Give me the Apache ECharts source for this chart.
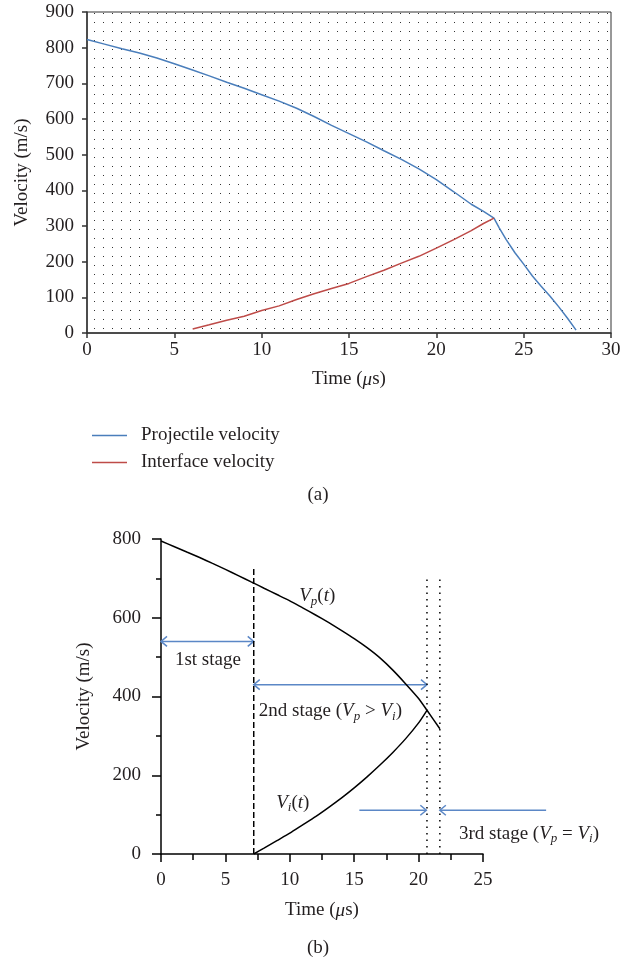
<!DOCTYPE html>
<html lang="en">
<head>
	<meta charset="UTF-8">
	<title>Velocity</title>
	<script src="https://cdn.jsdelivr.net/npm/echarts@6/dist/echarts.min.js"></script>
	<style>
		html, body { margin: 0; padding: 0; background: #fff; }
		#chart { width: 636px; height: 964px; }
	</style>
</head>
<body>
<div id="chart"></div>
<script>
	// (a) measured velocities
	var projTime = [0, 1, 2, 3, 4, 5, 6, 7, 8, 9, 10, 11, 12, 13, 14, 15, 16, 17, 18, 19, 20, 21, 22, 22.7, 23.3, 23.6, 24, 24.5, 25, 25.5, 26, 26.5, 27, 27.5, 28];
	var projVel = [823, 810, 797, 785, 771, 755, 738, 721, 703, 686, 668, 650, 630, 607, 582, 559, 536, 511, 487, 460, 430, 396, 361, 341, 322, 295, 262, 225, 193, 160, 131, 104, 74, 42, 8];
	var ifaceTime = [6.05, 7, 8, 9, 10, 11, 12, 13, 14, 15, 16, 17, 18, 19, 20, 21, 22, 22.7, 23.3];
	var ifaceVel = [11, 23, 36, 47, 63, 76, 94, 110, 125, 139, 158, 176, 196, 215, 238, 262, 287, 307, 322];
	var topXTicks = [0, 5, 10, 15, 20, 25, 30];
	var topYTicks = [0, 100, 200, 300, 400, 500, 600, 700, 800, 900];

	// (b) model curves
	var vpTime = [0, 1, 2, 3, 4, 5, 6, 7, 7.2, 8, 9, 10, 11, 12, 13, 14, 15, 16, 17, 18, 19, 20, 20.65, 21.65];
	var vpVel = [795, 781, 767, 753, 738, 723, 707, 691, 688, 675, 659, 643, 625, 607, 588, 568, 547, 524, 498, 467, 432, 395, 365, 318];
	var viTime = [7.2, 8, 9, 10, 11, 12, 13, 14, 15, 16, 17, 18, 19, 20, 20.65];
	var viVel = [0, 15, 34, 53, 74, 95, 118, 142, 168, 196, 226, 258, 293, 333, 365];
	var stageLineTime = [7.2, 20.65, 21.65];
	var stageLineTop = [726, 701, 701];
	// arrows: from, to, velocity, head at start, head at end
	var arrowFrom = [0, 7.2, 15.4, 29.9];
	var arrowTo = [7.2, 20.65, 20.6, 21.65];
	var arrowVel = [540, 430, 111, 111];
	var arrowHeadStart = [1, 1, 0, 0];
	var arrowHeadEnd = [1, 1, 1, 1];
	var noteTime = [3.64, 13.15, 28.57, 12.13, 10.23];
	var noteVel = [493, 362, 51, 654, 130];
	var noteText = [
		'{n|1st stage}',
		'{n|2nd stage (}{i|V}{s|p}{n| > }{i|V}{s|i}{n|)}',
		'{n|3rd stage (}{i|V}{s|p}{n| = }{i|V}{s|i}{n|)}',
		'{i|V}{s|p}{n|(}{i|t}{n|)}',
		'{i|V}{s|i}{n|(}{i|t}{n|)}'
	];
	var bottomXTicks = [0, 5, 10, 15, 20, 25];
	var bottomYTicks = [0, 200, 400, 600, 800];

	var FONT = '"Liberation Serif", "DejaVu Serif", serif';
	var INK = '#231f20';
	var BLUE = '#4a7ebb';
	var RED = '#be4b48';
	var ARROW = '#5b87c6';

	function zip(xs, ys) {
		var out = [];
		for (var i = 0; i < xs.length; i++) out.push([xs[i], ys[i]]);
		return out;
	}

	// dotted plot-area fill
	var dotCanvas = document.createElement('canvas');
	dotCanvas.width = 9;
	dotCanvas.height = 9;
	var dctx = dotCanvas.getContext('2d');
	dctx.fillStyle = '#fff';
	dctx.fillRect(0, 0, 9, 9);
	dctx.fillStyle = '#333';
	dctx.fillRect(4, 4, 1, 1);

	var rich = {
		n: {fontFamily: FONT, fontSize: 19, color: INK},
		i: {fontFamily: FONT, fontSize: 19, fontStyle: 'italic', color: INK},
		s: {fontFamily: FONT, fontSize: 13, fontStyle: 'italic', color: INK, padding: [10, 0, 0, 0]}
	};
	var labelStyle = {fontFamily: FONT, fontSize: 19, color: INK};
	var timeName = {rich: {a: {fontFamily: FONT, fontSize: 19, color: INK}, b: {fontFamily: FONT, fontSize: 19, fontStyle: 'italic', color: INK}}};

	var chart = echarts.init(document.getElementById('chart'));

	var arrowData = [];
	for (var k = 0; k < arrowFrom.length; k++) {
		arrowData.push([arrowFrom[k], arrowTo[k], arrowVel[k], arrowHeadStart[k], arrowHeadEnd[k]]);
	}
	var noteData = [];
	for (var m = 0; m < noteTime.length; m++) {
		noteData.push({value: [noteTime[m], noteVel[m]], text: noteText[m]});
	}

	var vertSeries = [];
	for (var j = 0; j < stageLineTime.length; j++) {
		vertSeries.push({
			type: 'line',
			xAxisIndex: 1,
			yAxisIndex: 1,
			symbol: 'none',
			silent: true,
			lineStyle: {color: '#000', width: 1.5, type: j === 0 ? [6, 3] : [1.5, 5]},
			data: [[stageLineTime[j], 0], [stageLineTime[j], stageLineTop[j]]]
		});
	}

	chart.setOption({
		animation: false,
		title: [
			{text: '(a)', left: 'center', top: 481, textStyle: {fontFamily: FONT, fontSize: 19, fontWeight: 'normal', color: INK}},
			{text: '(b)', left: 'center', top: 934, textStyle: {fontFamily: FONT, fontSize: 19, fontWeight: 'normal', color: INK}}
		],
		legend: {
			orient: 'vertical',
			left: 87,
			top: 421,
			icon: 'rect',
			itemWidth: 35,
			itemHeight: 1.5,
			itemGap: 8,
			data: ['Projectile velocity', 'Interface velocity'],
			textStyle: {fontFamily: FONT, fontSize: 19, color: INK, padding: [0, 0, 0, 9]}
		},
		grid: [
			{left: 87, top: 12, width: 524, height: 321, show: true, borderColor: '#333', borderWidth: 1,
				backgroundColor: {image: dotCanvas, repeat: 'repeat'}},
			{left: 161, top: 539, width: 322, height: 315, show: false}
		],
		xAxis: [
			{
				gridIndex: 0, type: 'value', min: topXTicks[0], max: topXTicks[topXTicks.length - 1], interval: 5,
				name: '{a|Time (}{b|μ}{a|s)}', nameLocation: 'middle', nameGap: 37, nameTextStyle: timeName,
				axisLine: {lineStyle: {color: '#333', width: 1.5}},
				axisTick: {length: 5, lineStyle: {color: '#333', width: 1.5}},
				axisLabel: Object.assign({margin: 8}, labelStyle),
				splitLine: {show: false}
			},
			{
				gridIndex: 1, type: 'value', min: bottomXTicks[0], max: bottomXTicks[bottomXTicks.length - 1], interval: 5,
				name: '{a|Time (}{b|μ}{a|s)}', nameLocation: 'middle', nameGap: 47, nameTextStyle: timeName,
				axisLine: {lineStyle: {color: '#000', width: 1.5}},
				axisTick: {length: 8, lineStyle: {color: '#000', width: 1.5}},
				minorTick: {show: true, splitNumber: 2, length: 6, lineStyle: {color: '#000', width: 1.5}},
				axisLabel: Object.assign({margin: 17}, labelStyle),
				splitLine: {show: false}
			}
		],
		yAxis: [
			{
				gridIndex: 0, type: 'value', min: topYTicks[0], max: topYTicks[topYTicks.length - 1], interval: 100,
				name: 'Velocity (m/s)', nameLocation: 'middle', nameGap: 55,
				nameTextStyle: labelStyle,
				axisLine: {show: true, lineStyle: {color: '#333', width: 1.5}},
				axisTick: {show: true, length: 5, lineStyle: {color: '#333', width: 1.5}},
				axisLabel: Object.assign({margin: 13}, labelStyle),
				splitLine: {show: false}
			},
			{
				gridIndex: 1, type: 'value', min: bottomYTicks[0], max: bottomYTicks[bottomYTicks.length - 1], interval: 200,
				name: 'Velocity (m/s)', nameLocation: 'middle', nameGap: 67,
				nameTextStyle: labelStyle,
				axisLine: {show: true, lineStyle: {color: '#000', width: 1.5}},
				axisTick: {show: true, length: 9, lineStyle: {color: '#000', width: 1.5}},
				minorTick: {show: true, splitNumber: 2, length: 5, lineStyle: {color: '#000', width: 1.5}},
				axisLabel: Object.assign({margin: 20}, labelStyle),
				splitLine: {show: false}
			}
		],
		series: [
			{
				name: 'Projectile velocity', type: 'line', xAxisIndex: 0, yAxisIndex: 0,
				symbol: 'none', lineStyle: {color: BLUE, width: 1.5}, itemStyle: {color: BLUE},
				data: zip(projTime, projVel)
			},
			{
				name: 'Interface velocity', type: 'line', xAxisIndex: 0, yAxisIndex: 0,
				symbol: 'none', lineStyle: {color: RED, width: 1.5}, itemStyle: {color: RED},
				data: zip(ifaceTime, ifaceVel)
			},
			{
				name: 'Vp', type: 'line', xAxisIndex: 1, yAxisIndex: 1, symbol: 'none', smooth: 0.2,
				lineStyle: {color: '#000', width: 1.5}, data: zip(vpTime, vpVel)
			},
			{
				name: 'Vi', type: 'line', xAxisIndex: 1, yAxisIndex: 1, symbol: 'none', smooth: 0.2,
				lineStyle: {color: '#000', width: 1.5}, data: zip(viTime, viVel)
			}
		].concat(vertSeries).concat([
			{
				name: 'arrows', type: 'custom', xAxisIndex: 1, yAxisIndex: 1, silent: true,
				encode: {x: [0, 1], y: 2},
				data: arrowData,
				renderItem: function (params, api) {
					var a = api.coord([api.value(0), api.value(2)]);
					var b = api.coord([api.value(1), api.value(2)]);
					var dir = b[0] > a[0] ? 1 : -1;
					var st = {stroke: ARROW, lineWidth: 1.5, fill: null};
					var kids = [{type: 'line', shape: {x1: a[0], y1: a[1], x2: b[0], y2: b[1]}, style: st}];
					if (api.value(3)) {
						kids.push({type: 'polyline', shape: {points: [[a[0] + dir * 6, a[1] - 5], [a[0], a[1]], [a[0] + dir * 6, a[1] + 5]]}, style: st});
					}
					if (api.value(4)) {
						kids.push({type: 'polyline', shape: {points: [[b[0] - dir * 6, b[1] - 5], [b[0], b[1]], [b[0] - dir * 6, b[1] + 5]]}, style: st});
					}
					return {type: 'group', children: kids};
				}
			},
			{
				name: 'notes', type: 'custom', xAxisIndex: 1, yAxisIndex: 1, silent: true,
				data: noteData,
				renderItem: function (params, api) {
					var p = api.coord([api.value(0), api.value(1)]);
					return {
						type: 'text', x: p[0], y: p[1],
						style: {text: noteData[params.dataIndex].text, rich: rich, align: 'center', verticalAlign: 'middle',
							fontFamily: FONT, fontSize: 19, fill: INK}
					};
				}
			}
		])
	});
</script>
</body>
</html>
